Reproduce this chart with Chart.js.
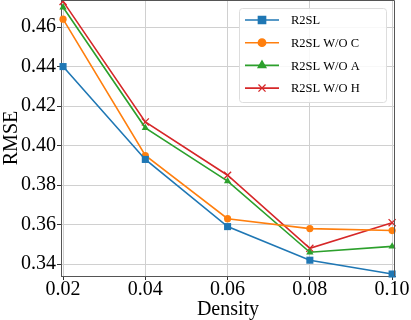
<!DOCTYPE html>
<html>
<head>
<title>RMSE vs Density</title>
<script src="https://cdn.jsdelivr.net/npm/chart.js"></script>
<style>
    body { margin: 0; background: #fff; }
    #chartContainer { width: 411px; height: 320px; }
</style>
</head>
<body>
<div id="chartContainer">
    <canvas id="myChart"></canvas>
</div>
<script>
var densities = [0.02, 0.04, 0.06, 0.08, 0.10];
var xTicks = [0.02, 0.04, 0.06, 0.08, 0.10];
var yTicks = [0.34, 0.36, 0.38, 0.40, 0.42, 0.44, 0.46];
var seriesNames = ['R2SL', 'R2SL W/O C', 'R2SL W/O A', 'R2SL W/O H'];
var r2sl = [0.440, 0.393, 0.359, 0.342, 0.335];
var woC  = [0.464, 0.395, 0.363, 0.358, 0.357];
var woA  = [0.470, 0.409, 0.382, 0.346, 0.349];
var woH  = [0.473, 0.412, 0.385, 0.348, 0.361];

var colors = ['#1f77b4', '#ff7f0e', '#2ca02c', '#d62728'];
var markers = ['rect', 'circle', 'triangle', 'crossRot'];
var sizes = [5, 3.6, 4.2, 5];
var allValues = [r2sl, woC, woA, woH];
var serif = "'Liberation Serif', 'DejaVu Serif', serif";

function toPoints(vals) {
    return densities.map(function (d, i) { return { x: d, y: vals[i] }; });
}

var datasets = allValues.map(function (vals, i) {
    return {
        label: seriesNames[i],
        data: toPoints(vals),
        borderColor: colors[i],
        backgroundColor: colors[i],
        borderWidth: 1.6,
        pointStyle: markers[i],
        pointRadius: sizes[i],
        pointBorderWidth: markers[i] === 'crossRot' ? 1.3 : 0,
        pointBorderColor: colors[i],
        tension: 0,
        clip: false
    };
});

// matplotlib-like legend box + top/right spines
var mplDecor = {
    id: 'mplDecor',
    afterDraw: function (chart) {
        var c = chart.ctx, a = chart.chartArea;
        c.save();
        c.strokeStyle = '#555';
        c.lineWidth = 1;
        c.beginPath();
        c.moveTo(a.left, a.top + 0.5);
        c.lineTo(a.right - 0.5, a.top + 0.5);
        c.lineTo(a.right - 0.5, a.bottom);
        c.stroke();

        var bx = 239.5, by = 8.5, bw = 147, bh = 94;
        c.fillStyle = 'rgba(255,255,255,0.85)';
        c.strokeStyle = '#dddddd';
        c.beginPath();
        c.roundRect(bx, by, bw, bh, 3);
        c.fill();
        c.stroke();

        c.font = '12.5px ' + serif;
        c.textBaseline = 'middle';
        chart.data.datasets.forEach(function (ds, i) {
            var y = 20 + i * 22.7;
            c.strokeStyle = ds.borderColor;
            c.lineWidth = 1.6;
            c.beginPath();
            c.moveTo(245, y);
            c.lineTo(279, y);
            c.stroke();
            c.fillStyle = ds.borderColor;
            c.strokeStyle = ds.borderColor;
            c.lineWidth = ds.pointStyle === 'crossRot' ? 1.3 : 0;
            Chart.helpers.drawPoint(c, {
                pointStyle: ds.pointStyle,
                radius: ds.pointRadius,
                borderWidth: c.lineWidth
            }, 262, y);
            c.fillStyle = '#000';
            c.fillText(ds.label, 291, y + 1);
        });
        c.restore();
    }
};

var ctx = document.getElementById('myChart').getContext('2d');

var chart = new Chart(ctx, {
    type: 'line',
    data: { datasets: datasets },
    options: {
        animation: false,
        responsive: true,
        maintainAspectRatio: false,
        layout: { autoPadding: false, padding: { top: 0, right: 16, left: 0, bottom: 0 } },
        plugins: {
            legend: { display: false },
            tooltip: { enabled: false }
        },
        scales: {
            x: {
                type: 'linear',
                min: 0.0195,
                max: 0.1007,
                afterBuildTicks: function (s) { s.ticks = xTicks.map(function (v) { return { value: v }; }); },
                afterFit: function (s) { s.height = 44; },
                ticks: {
                    color: '#000',
                    font: { family: serif, size: 20 },
                    padding: -2,
                    maxRotation: 0,
                    callback: function (v) { return v.toFixed(2); }
                },
                grid: {
                    color: '#d0d0d0',
                    borderDash: [2, 2],
                    tickColor: '#333',
                    tickBorderDash: [],
                    tickLength: 4
                },
                border: { color: '#555', width: 1 },
                title: {
                    display: true,
                    text: 'Density',
                    color: '#000',
                    font: { family: serif, size: 20 },
                    padding: { top: 0, bottom: -2 }
                }
            },
            y: {
                type: 'linear',
                min: 0.334,
                max: 0.4737,
                afterBuildTicks: function (s) { s.ticks = yTicks.map(function (v) { return { value: v }; }); },
                afterFit: function (s) { s.width = 61; s.paddingTop = 0; s.paddingBottom = 0; },
                ticks: {
                    color: '#000',
                    font: { family: serif, size: 20 },
                    padding: 1,
                    callback: function (v) { return v.toFixed(2); }
                },
                grid: {
                    color: '#d0d0d0',
                    borderDash: [2, 2],
                    tickColor: '#333',
                    tickBorderDash: [],
                    tickLength: 4
                },
                border: { color: '#555', width: 1 },
                title: {
                    display: true,
                    text: 'RMSE',
                    color: '#000',
                    font: { family: serif, size: 20 },
                    padding: { top: 0, bottom: 0 }
                }
            }
        }
    },
    plugins: [mplDecor]
});
</script>
</body>
</html>
